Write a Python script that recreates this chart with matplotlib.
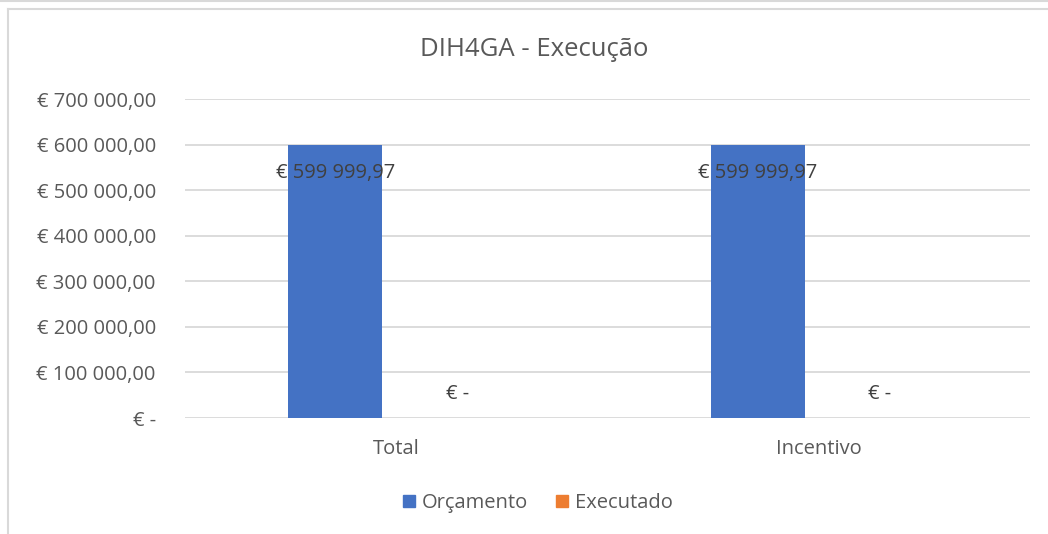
import matplotlib
matplotlib.use("Agg")
import matplotlib.pyplot as plt
from matplotlib.lines import Line2D
from matplotlib.patches import Patch
import numpy as np

categories = ["Total", "Incentivo"]
orcamento = [599999.97, 599999.97]
executado = [0.0, 0.0]
series_names = ["Orçamento", "Executado"]
yticks = [0, 100000, 200000, 300000, 400000, 500000, 600000, 700000]
title = "DIH4GA - Execução"

def fmt(v):
    if v == 0:
        return "€ -"
    s = f"{v:,.2f}".replace(",", " ").replace(".", ",")
    return "€ " + s

W, H = 1048, 534
fig = plt.figure(figsize=(W / 100, H / 100), dpi=100)
plt.rcParams['font.family'] = ['Open Sans', 'DejaVu Sans']
txt = "#595959"
fs = 14.5

# chart border lines
fig.add_artist(Line2D([0, 1], [1 - 0.5 / H, 1 - 0.5 / H], transform=fig.transFigure, color="#d9d9d9", lw=1.5))
fig.add_artist(Line2D([8 / W, 1], [1 - 9 / H, 1 - 9 / H], transform=fig.transFigure, color="#d9d9d9", lw=1.5))
fig.add_artist(Line2D([8 / W, 8 / W], [0, 1 - 9 / H], transform=fig.transFigure, color="#d9d9d9", lw=1.5))

left, right, top, bottom = 185, 1030, 99, 418
ax = fig.add_axes([left / W, 1 - bottom / H, (right - left) / W, (bottom - top) / H])
x = np.arange(len(categories))
bw = 0.2225
off = 0.144
c1, c2 = "#4472c4", "#ed7d31"
ax.bar(x - off, orcamento, bw, color=c1, zorder=3)
ax.bar(x + off, executado, bw, color=c2, zorder=3)
ax.set_xlim(-0.5, len(categories) - 0.5)
ax.set_ylim(0, 700000)
ax.set_yticks(yticks)
ax.set_yticklabels([fmt(v) for v in yticks], fontsize=fs, color=txt)
ax.set_xticks(x)
ax.set_xticklabels(categories, fontsize=fs, color=txt)
ax.tick_params(length=0)
ax.tick_params(axis='y', pad=21)
ax.tick_params(axis='x', pad=15)
for s in ax.spines.values():
    s.set_visible(False)
ax.grid(axis='y', color="#d9d9d9", lw=1.3, zorder=0)

for i, v in enumerate(orcamento):
    ax.text(x[i] - off, v - 62000, fmt(v), ha='center', va='center', fontsize=fs, color="#404040", zorder=4)
for i, v in enumerate(executado):
    ax.text(x[i] + off, v + 52000, fmt(v), ha='center', va='center', fontsize=fs, color="#404040", zorder=4)

fig.text(534 / W, 1 - 49 / H, title, ha='center', va='center', fontsize=18.5, color=txt)

handles = [Patch(color=c1), Patch(color=c2)]
fig.legend(handles, series_names, loc='center', bbox_to_anchor=(538 / W, 1 - 503 / H), ncol=2,
           frameon=False, fontsize=fs, labelcolor=txt, handlelength=0.6, handleheight=0.6,
           handletextpad=0.35, columnspacing=1.4)

fig.savefig("out.png", dpi=100)
